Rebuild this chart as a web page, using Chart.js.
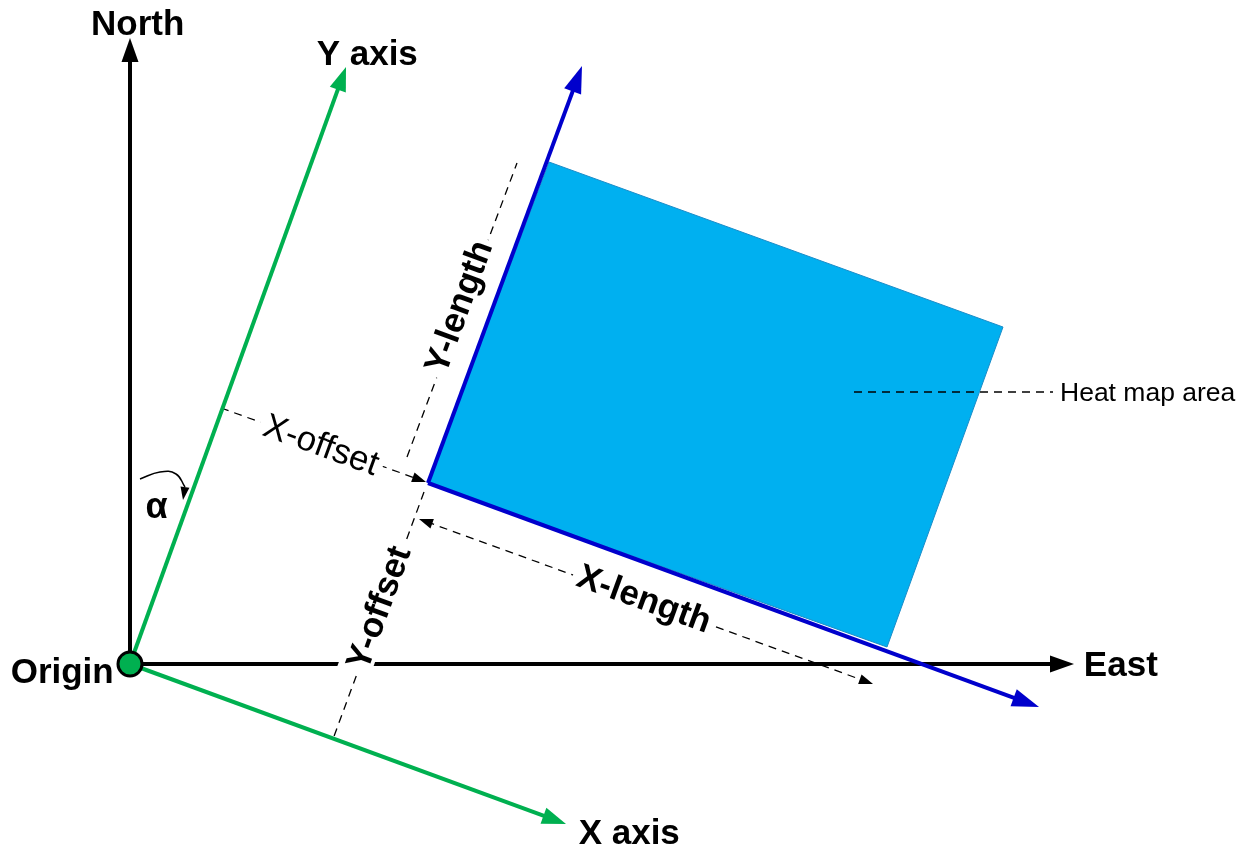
<!DOCTYPE html>
<html>
<head>
<meta charset="utf-8">
<title>Heat map area geometry</title>
<script src="https://cdn.jsdelivr.net/npm/chart.js@4.4.1/dist/chart.umd.min.js"></script>
<style>
    html, body { margin: 0; padding: 0; background: #fff; overflow: hidden; }
    #wrap { width: 1244px; height: 846px; position: relative; }
</style>
</head>
<body>
<div id="wrap"><canvas id="diagram"></canvas></div>
<script>
// Diagram geometry (x to the right, y downwards)
const origin = [130, 664];
const northTip = [130, 38];
const eastTip = [1074, 664];
const yAxisTip = [346, 67];
const xAxisTip = [566, 824];
const heatMapCorners = [[428, 483], [549, 162], [1003, 327], [887, 647]];
const yLengthTip = [582, 66];
const xLengthTip = [1039, 707];
const xOffsetLine = [[221, 408], [426, 482]];
const yOffsetLine = [[424, 492], [333, 739]];
const yLengthGuide = [[407, 457], [517, 163]];
const xLengthGuide = [[419, 519], [873, 684]];
const heatMapLeader = [[854, 392], [1053, 392]];
const alphaArc = [[140, 479], [160, 472], [176, 474], [185, 487]];
const alphaArrow = [[185, 487], [183, 500]];

const labelTexts = ['North', 'Y axis', 'East', 'Origin', 'X axis', 'Heat map area',
    'X-offset', 'Y-length', 'Y-offset', 'X-length', 'α'];
const labelPoints = [[138, 22], [367, 52], [1122, 664], [62, 673], [629, 831], [1062, 394],
    [322, 443], [460, 308], [377, 607], [643, 600], [157, 508]];

const GREEN = '#00B050';
const DARK_BLUE = '#0000CC';
const FILL_BLUE = '#00B0F0';
const FONT = '"Liberation Sans", Arial, Helvetica, sans-serif';

const pts = arr => arr.map(([x, y]) => ({ x, y }));

// point on segment p->q lying d pixels before q (keeps the stroke inside the arrow head)
function backOff(p, q, d) {
    const dx = q[0] - p[0], dy = q[1] - p[1];
    const len = Math.hypot(dx, dy);
    return [q[0] - dx / len * d, q[1] - dy / len * d];
}

function lineSet(data, color, width, dash) {
    return {
        data: pts(data),
        showLine: true,
        borderColor: color,
        backgroundColor: color,
        borderWidth: width,
        borderDash: dash || [],
        pointRadius: 0,
        fill: false
    };
}

// arrow heads: from, to, length, width, colour
const arrows = [
    [origin, northTip, 24, 17, '#000'],
    [origin, eastTip, 24, 17, '#000'],
    [origin, yAxisTip, 24, 17, GREEN],
    [origin, xAxisTip, 24, 17, GREEN],
    [heatMapCorners[0], yLengthTip, 27, 18, DARK_BLUE],
    [heatMapCorners[0], xLengthTip, 27, 18, DARK_BLUE],
    [xOffsetLine[0], xOffsetLine[1], 14, 10, '#000'],
    [xLengthGuide[1], xLengthGuide[0], 14, 10, '#000'],
    [xLengthGuide[0], xLengthGuide[1], 14, 10, '#000'],
    [alphaArrow[0], alphaArrow[1], 13, 9, '#000']
];

// label styles, same order as labelTexts
const BOLD = 'bold 35px ' + FONT;
const labelStyles = [
    { font: BOLD }, { font: BOLD }, { font: BOLD }, { font: BOLD }, { font: BOLD },
    { font: '26.5px ' + FONT, align: 'left' },
    { font: '35px ' + FONT, angle: 20, box: true },
    { font: BOLD, angle: -70, box: true },
    { font: BOLD, angle: -70, box: true },
    { font: BOLD, angle: 20, box: true },
    { font: 'bold 36px ' + FONT }
];

const decor = {
    id: 'decor',
    afterDatasetsDraw(chart) {
        const { ctx, scales } = chart;
        const px = p => [scales.x.getPixelForValue(p[0]), scales.y.getPixelForValue(p[1])];

        // labels, centred on their visible glyph box
        labelTexts.forEach((text, i) => {
            const st = labelStyles[i];
            const [cx, cy] = px(labelPoints[i]);
            ctx.save();
            ctx.font = st.font;
            ctx.textBaseline = 'alphabetic';
            ctx.textAlign = 'left';
            const m = ctx.measureText(text);
            const w = m.actualBoundingBoxRight + m.actualBoundingBoxLeft;
            const asc = m.actualBoundingBoxAscent, desc = m.actualBoundingBoxDescent;
            ctx.translate(cx, cy);
            ctx.rotate((st.angle || 0) * Math.PI / 180);
            const x0 = st.align === 'left' ? 0 : -w / 2;
            const base = (asc - desc) / 2;
            if (st.box) {
                ctx.fillStyle = '#fff';
                ctx.fillRect(x0 - 5, -(asc + desc) / 2 - 4, w + 10, asc + desc + 8);
            }
            ctx.fillStyle = '#000';
            ctx.fillText(text, x0 + m.actualBoundingBoxLeft, base);
            ctx.restore();
        });

        // arrow heads
        arrows.forEach(([from, to, len, wid, color]) => {
            const [x1, y1] = px(from);
            const [x2, y2] = px(to);
            const a = Math.atan2(y2 - y1, x2 - x1);
            ctx.save();
            ctx.translate(x2, y2);
            ctx.rotate(a);
            ctx.beginPath();
            ctx.moveTo(0, 0);
            ctx.lineTo(-len, -wid / 2);
            ctx.lineTo(-len, wid / 2);
            ctx.closePath();
            ctx.fillStyle = color;
            ctx.fill();
            ctx.restore();
        });
    }
};

// first dataset is painted last (on top)
const datasets = [
    {
        data: pts([origin]),
        pointRadius: 12,
        pointBackgroundColor: GREEN,
        pointBorderColor: '#000',
        pointBorderWidth: 3,
        showLine: false
    },
    lineSet([origin, backOff(origin, yAxisTip, 14)], GREEN, 4),
    lineSet([origin, backOff(origin, xAxisTip, 14)], GREEN, 4),
    lineSet([heatMapCorners[0], backOff(heatMapCorners[0], yLengthTip, 15)], DARK_BLUE, 4),
    lineSet([heatMapCorners[0], backOff(heatMapCorners[0], xLengthTip, 15)], DARK_BLUE, 4),
    lineSet([origin, backOff(origin, northTip, 14)], '#000', 4),
    lineSet([origin, backOff(origin, eastTip, 14)], '#000', 4),
    lineSet([xOffsetLine[0], backOff(xOffsetLine[0], xOffsetLine[1], 8)], '#000', 1.3, [8, 6]),
    lineSet([backOff(xLengthGuide[1], xLengthGuide[0], 8), backOff(xLengthGuide[0], xLengthGuide[1], 8)], '#000', 1.3, [8, 6]),
    lineSet(yOffsetLine, '#000', 1.3, [8, 6]),
    lineSet(yLengthGuide, '#000', 1.3, [8, 6]),
    lineSet(heatMapLeader, '#000', 1.3, [8, 6]),
    Object.assign(lineSet(alphaArc, '#000', 1.5), { tension: 0.45 }),
    {
        data: pts(heatMapCorners.concat([heatMapCorners[0]])),
        showLine: true,
        borderColor: '#1A8CC8',
        borderWidth: 1,
        backgroundColor: FILL_BLUE,
        pointRadius: 0,
        fill: 'shape'
    }
];

new Chart(document.getElementById('diagram'), {
    type: 'scatter',
    data: { datasets },
    options: {
        animation: false,
        responsive: true,
        maintainAspectRatio: false,
        layout: { padding: 0, autoPadding: false },
        events: [],
        plugins: {
            legend: { display: false },
            tooltip: { enabled: false }
        },
        scales: {
            x: { type: 'linear', min: 0, max: 1244, display: false },
            y: { type: 'linear', min: 0, max: 846, reverse: true, display: false }
        }
    },
    plugins: [decor]
});
</script>
</body>
</html>
